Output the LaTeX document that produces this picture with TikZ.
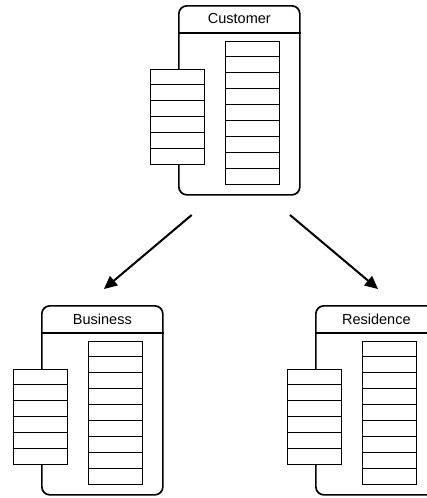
\documentclass[tikz,border=0pt]{standalone}
\usepackage{fontspec}
\setmainfont{Liberation Sans}
\usetikzlibrary{calc,arrows.meta}
\tikzset{
  compbox/.style={draw, rounded corners=8pt, minimum width=121pt, minimum height=189pt,
    anchor=north west, inner sep=0pt, line width=1.7pt},
  rstack/.style={draw, fill=white, anchor=north west, minimum width=54pt, minimum height=143pt,
    inner sep=0pt, line width=0.8pt},
  lstack/.style={draw, fill=white, anchor=north west, minimum width=54pt, minimum height=95pt,
    inner sep=0pt, line width=0.8pt},
  rowline/.style={line width=0.8pt},
  headline/.style={line width=1.7pt},
  complabel/.style={font=\fontsize{14.5}{17}\selectfont, inner sep=0pt},
  assoc/.style={line width=2pt, -{Triangle[length=13pt,width=12pt]}}
}
\newcommand\umlcomp[4]{%
  \node[compbox] (#1) at (#2,#3) {};
  \draw[headline] ([yshift=-28pt]#1.north west) -- ([yshift=-28pt]#1.north east);
  \node[complabel] (#1lbl) at ([yshift=-14pt]#1.north) {#4};
  \node[rstack] (#1R) at ($(#1.north west)+(47,36)$) {};
  \foreach \i in {1,...,8}
    \draw[rowline] ([yshift={-\i*15.889pt}]#1R.north west) -- ([yshift={-\i*15.889pt}]#1R.north east);
  \node[lstack] (#1L) at ($(#1.north west)+(-28.5,64)$) {};
  \foreach \i in {1,...,5}
    \draw[rowline] ([yshift={-\i*15.833pt}]#1L.north west) -- ([yshift={-\i*15.833pt}]#1L.north east);
}
\begin{document}
\begin{tikzpicture}[x=1pt,y=-1pt]
\useasboundingbox (0,0) rectangle (427,498);
\clip (0,0) rectangle (427,498);
\umlcomp{cust}{178}{5}{Customer}
\umlcomp{bus}{41}{305}{Business}
\umlcomp{res}{315}{305}{Residence}
\coordinate (a1s) at (191.7,215);
\coordinate (a1e) at (104,289);
\coordinate (a2s) at (290,215);
\coordinate (a2e) at (378,289);
\draw[assoc] (a1s) -- (a1e);
\draw[assoc] (a2s) -- (a2e);
\end{tikzpicture}
\end{document}
